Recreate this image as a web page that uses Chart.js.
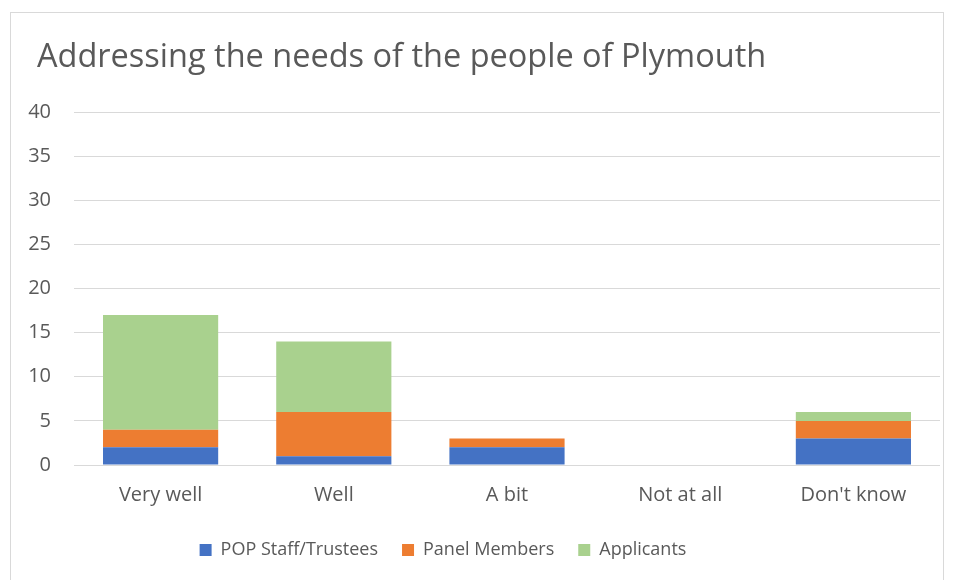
<!DOCTYPE html>
<html>
<head>
<meta charset="utf-8">
<script src="https://cdn.jsdelivr.net/npm/chart.js@4.4.1/dist/chart.umd.min.js"></script>
<style>
  html, body { margin: 0; padding: 0; background: #fff; }
  #wrap { position: relative; width: 958px; height: 580px; }
  #frame { position: absolute; left: 10px; top: 12px; width: 934px; height: 570px; border: 1px solid #d9d9d9; box-sizing: border-box; }
  #chart { position: absolute; left: 0; top: 0; }
</style>
</head>
<body>
<div id="wrap">
  <div id="frame"></div>
  <canvas id="chart" width="958" height="580"></canvas>
</div>
<script>
// survey answers per group
const categories = ['Very well', 'Well', 'A bit', 'Not at all', "Don't know"];
const staffTrustees = [2, 1, 2, 0, 3];
const panelMembers = [2, 5, 1, 0, 2];
const applicants = [13, 8, 0, 0, 1];
const yTicks = [0, 5, 10, 15, 20, 25, 30, 35, 40];
const chartTitle = 'Addressing the needs of the people of Plymouth';

const textColor = '#595959';
const gridColor = '#d9d9d9';
const fontFamily = '"Open Sans", sans-serif';

Chart.defaults.font.family = fontFamily;
Chart.defaults.color = textColor;

// title drawn left-aligned at the frame's inner margin
const titlePlugin = {
    id: 'leftTitle',
    afterDraw(chart) {
        const c = chart.ctx;
        c.save();
        c.font = '32.5px ' + fontFamily;
        c.fillStyle = textColor;
        c.textBaseline = 'alphabetic';
        c.textAlign = 'left';
        c.fillText(chartTitle, 37, 67);
        c.restore();
    }
};

// nudge the legend a little left of the canvas centre
const legendShift = {
    id: 'legendShift',
    afterLayout(chart) {
        chart.legend.left -= 32;
        chart.legend.right -= 32;
    }
};

const ctx = document.getElementById('chart').getContext('2d');
const chart = new Chart(ctx, {
    type: 'bar',
    data: {
        labels: categories,
        datasets: [
            { label: 'POP Staff/Trustees', data: staffTrustees, backgroundColor: '#4472C4' },
            { label: 'Panel Members', data: panelMembers, backgroundColor: '#ED7D31' },
            { label: 'Applicants', data: applicants, backgroundColor: '#A9D18E' }
        ]
    },
    plugins: [titlePlugin, legendShift],
    options: {
        responsive: false,
        animation: false,
        layout: { padding: { left: 10, right: 18, top: 112, bottom: 11 } },
        datasets: {
            bar: { categoryPercentage: 1, barPercentage: 0.665, borderWidth: 0 }
        },
        scales: {
            x: {
                stacked: true,
                grid: { display: false, drawTicks: false },
                border: { display: false },
                afterFit: function(scale) { scale.height = 52; },
                ticks: { padding: 18, font: { size: 20 }, color: textColor }
            },
            y: {
                stacked: true,
                min: 0,
                max: 40,
                afterBuildTicks: function(scale) {
                    scale.ticks = yTicks.map(v => ({ value: v }));
                },
                afterFit: function(scale) { scale.width = 64; },
                grid: { color: gridColor, lineWidth: 1, drawTicks: false },
                border: { display: false },
                ticks: { padding: 23, font: { size: 20 }, color: textColor }
            }
        },
        plugins: {
            title: { display: false },
            legend: {
                position: 'bottom',
                labels: {
                    boxWidth: 12,
                    boxHeight: 12,
                    padding: 24,
                    color: textColor,
                    font: { size: 18 }
                }
            },
            tooltip: { enabled: false }
        }
    }
});
</script>
</body>
</html>
